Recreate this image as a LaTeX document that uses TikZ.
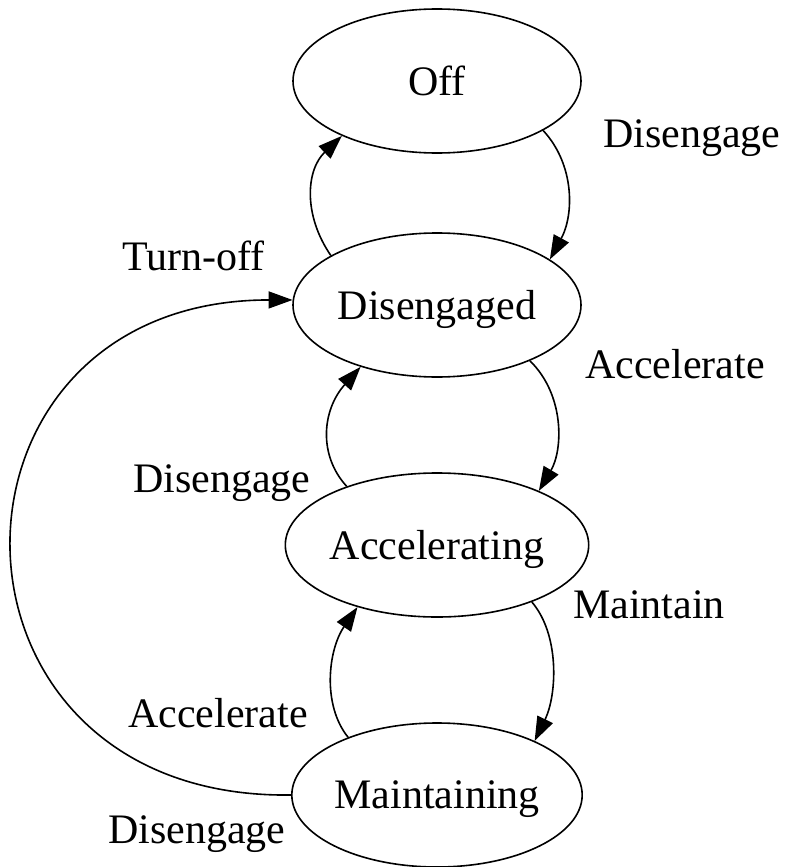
\documentclass[tikz,border=0pt]{standalone}
\usepackage{fontspec}
\setmainfont{Liberation Serif}
\usetikzlibrary{shapes.geometric,arrows.meta}

\begin{document}
\begin{tikzpicture}[x=1pt,y=-1pt,
    state/.style={ellipse,draw,line width=1.6pt,minimum width=288pt,minimum height=144pt,
      inner sep=0pt,text depth=0pt,font=\fontsize{42}{50}\selectfont},
    lbl/.style={anchor=base west,inner sep=0pt,font=\fontsize{42}{50}\selectfont},
    trans/.style={line width=1.6pt,-{Triangle[length=24pt,width=17pt]}}]
  \useasboundingbox (0,0) rectangle (790,867);
  % states
  \node[state] (off) at (437,81) {Off};
  \node[state] (diseng) at (437,305) {Disengaged};
  \node[state] (accel) at (437,545) {Accelerating};
  \node[state] (maint) at (437,795) {Maintaining};
  % transitions
  \draw[trans] (off.-25) .. controls (575,165) and (574,215) .. (diseng.22);
  \draw[trans] (diseng.155) .. controls (303,215) and (306,170) .. (off.210);
  \draw[trans] (diseng.-31) .. controls (565,395) and (563,450) .. (accel.28);
  \draw[trans] (accel.147) .. controls (318,455) and (322,410) .. (diseng.219);
  \draw[trans] (accel.-31) .. controls (560,635) and (557,695) .. (maint.29);
  \draw[trans] (maint.147) .. controls (322,705) and (328,650) .. (accel.218);
  \draw[trans] (maint.180) .. controls (-80,800) and (-80,300) .. (diseng.178);
  % labels
  \node[lbl] (dis1) at (603,147) {Disengage};
  \node[lbl] (acc1) at (585,378) {Accelerate};
  \node[lbl] (toff) at (122,270) {Turn-off};
  \node[lbl] (dis2) at (133,492) {Disengage};
  \node[lbl] (mnt) at (573,618) {Maintain};
  \node[lbl] (acc2) at (128,727) {Accelerate};
  \node[lbl] (dis3) at (108,843) {Disengage};
\end{tikzpicture}
\end{document}
